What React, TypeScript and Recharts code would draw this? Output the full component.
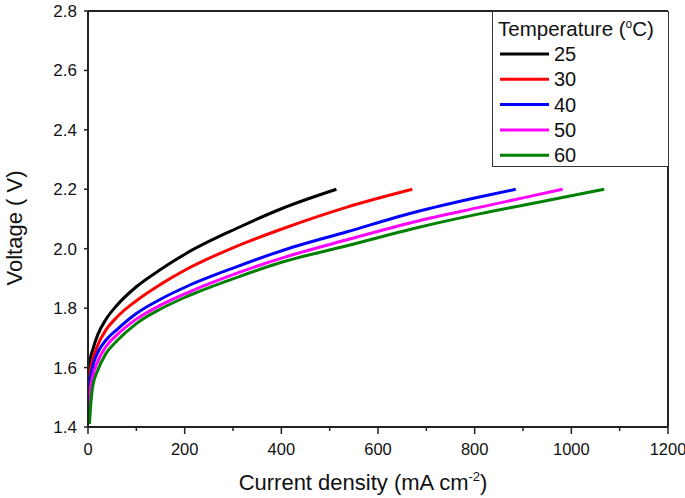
import { LineChart, Line, XAxis, YAxis, ReferenceLine } from "recharts";

const temps = ["25", "30", "40", "50", "60"];
const colors = ["#000000", "#ff0000", "#0000ff", "#ff00ff", "#008000"];

// current density (mA cm-2) and voltage (V)
const current25 = [0, 2, 5, 9.6, 20, 37, 60, 100, 150, 203, 307, 404, 514];
const voltage25 = [1.5, 1.58, 1.63, 1.659, 1.71, 1.762, 1.81, 1.872, 1.93, 1.984, 2.068, 2.137, 2.2];

const current30 = [0, 2, 5, 9.6, 20, 37, 60, 100, 150, 203, 307, 404, 536, 671];
const voltage30 = [1.46, 1.54, 1.59, 1.625, 1.675, 1.726, 1.77, 1.825, 1.88, 1.93, 2.008, 2.068, 2.14, 2.2];

const current40 = [0, 3, 9.6, 20, 37, 60, 100, 150, 203, 307, 404, 536, 674, 812, 885];
const voltage40 = [1.44, 1.53, 1.602, 1.65, 1.692, 1.728, 1.782, 1.83, 1.872, 1.939, 1.995, 2.057, 2.122, 2.175, 2.2];

const current50 = [0, 3, 9.6, 20, 37, 60, 100, 150, 203, 307, 404, 536, 674, 812, 900, 982];
const voltage50 = [1.41, 1.5, 1.569, 1.62, 1.67, 1.71, 1.763, 1.81, 1.85, 1.917, 1.97, 2.03, 2.09, 2.14, 2.171, 2.2];

const current60 = [3, 5, 9.6, 20, 37, 60, 100, 150, 203, 307, 404, 536, 674, 812, 950, 1068];
const voltage60 = [1.41, 1.46, 1.535, 1.59, 1.647, 1.69, 1.748, 1.797, 1.838, 1.903, 1.956, 2.01, 2.068, 2.118, 2.162, 2.2];

const currents = [current25, current30, current40, current50, current60];
const voltages = [voltage25, voltage30, voltage40, voltage50, voltage60];

const xTicks = [0, 100, 200, 300, 400, 500, 600, 700, 800, 900, 1000, 1100, 1200];
const yTicks = [1.4, 1.6, 1.8, 2.0, 2.2, 2.4, 2.6, 2.8];

const font = "Arial, 'Liberation Sans', sans-serif";

function XTick({ x, y, payload }: any) {
  const major = payload.value % 200 === 0;
  return (
    <g>
      <line x1={x} x2={x} y1={y} y2={y + (major ? 7 : 4)} stroke="#222" strokeWidth={1.5} />
      {major && (
        <text x={x} y={y + 28} textAnchor="middle" fontSize={16.5} fill="#111" fontFamily={font}>
          {payload.value}
        </text>
      )}
    </g>
  );
}

function TempLegend() {
  return (
    <div
      style={{
        position: "absolute",
        left: 492,
        top: 11,
        width: 177,
        height: 156,
        border: "1.5px solid #333",
        boxSizing: "border-box",
        background: "#fff",
      }}
    >
      <svg width={174} height={153} style={{ display: "block", fontFamily: font }}>
        <text x={5} y={24} fontSize={20.5} fill="#111">
          Temperature (<tspan fontSize={12} dy={-8}>o</tspan>
          <tspan dy={8}>C)</tspan>
        </text>
        {temps.map((t, i) => (
          <g key={t}>
            <line x1={7} x2={56} y1={42 + i * 25.3} y2={42 + i * 25.3} stroke={colors[i]} strokeWidth={3} />
            <text x={61} y={49 + i * 25.3} fontSize={20} fill="#111">
              {t}
            </text>
          </g>
        ))}
      </svg>
    </div>
  );
}

export default function App() {
  const series = temps.map((t, i) => ({
    name: t,
    color: colors[i],
    data: currents[i].map((c, j) => ({ i: c, v: voltages[i][j] })),
  }));

  return (
    <div style={{ position: "absolute", left: 0, top: 0, width: 685, height: 498, background: "#fff" }}>
      <LineChart
        width={685}
        height={498}
        margin={{ top: 11, right: 17, bottom: 0, left: 0 }}
        style={{ fontFamily: font }}
      >
        <XAxis
          dataKey="i"
          type="number"
          domain={[0, 1200]}
          ticks={xTicks}
          interval={0}
          height={71}
          tickSize={0}
          tickMargin={0}
          tickLine={false}
          tick={<XTick />}
          axisLine={{ stroke: "#222", strokeWidth: 2 }}
          allowDataOverflow
        />
        <YAxis
          type="number"
          domain={[1.4, 2.8]}
          ticks={yTicks}
          interval={0}
          width={88}
          tickSize={4}
          tickMargin={7}
          tickFormatter={(v: number) => v.toFixed(1)}
          tick={{ fontSize: 17, fill: "#111" }}
          tickLine={{ stroke: "#222", strokeWidth: 1.5 }}
          axisLine={{ stroke: "#222", strokeWidth: 2 }}
          allowDataOverflow
        />
        <ReferenceLine y={2.8} stroke="#222" strokeWidth={2} />
        <ReferenceLine x={1200} stroke="#222" strokeWidth={2} />
        {series.map((s) => (
          <Line
            key={s.name}
            data={s.data}
            dataKey="v"
            name={s.name}
            type="monotone"
            stroke={s.color}
            strokeWidth={3}
            dot={false}
            isAnimationActive={false}
          />
        ))}
        <text x={363} y={490} textAnchor="middle" fontSize={22} fill="#111" fontFamily={font}>
          Current density (mA cm<tspan fontSize={13} dy={-9}>-2</tspan>
          <tspan dy={9}>)</tspan>
        </text>
        <text
          x={14}
          y={228}
          transform="rotate(-90 14 228)"
          textAnchor="middle"
          dominantBaseline="central"
          fontSize={22}
          fill="#111"
          fontFamily={font}
        >
          Voltage ( V)
        </text>
      </LineChart>
      <TempLegend />
    </div>
  );
}
